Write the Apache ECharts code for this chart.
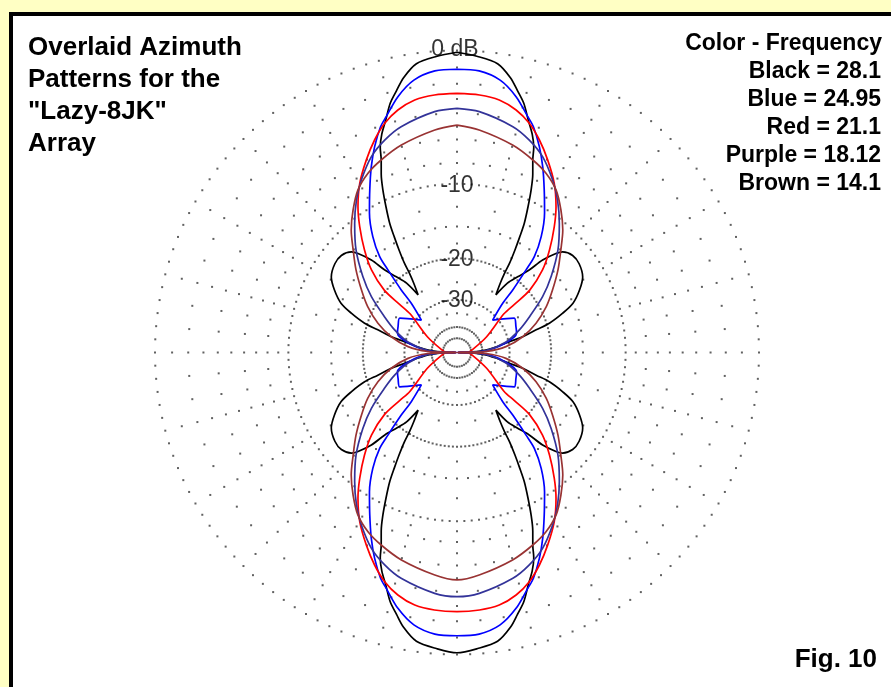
<!DOCTYPE html>
<html>
<head>
<meta charset="utf-8">
<script src="https://cdn.jsdelivr.net/npm/echarts@6/dist/echarts.min.js"></script>
<style>
  html, body { margin: 0; padding: 0; background: #FFFFC4; }
  #chart { width: 891px; height: 687px; }
</style>
</head>
<body>
<div id="chart"></div>
<script>
// Azimuth patterns of the Lazy-8JK array, one quadrant each:
// [azimuth in degrees clockwise from the top, relative gain in dB].
// The array is symmetric fore/aft and side to side, so the other
// three quadrants are reflections of this one. Broadside (90°) is a deep null.
const black28 = [
  [0, -0.1], [4, -0.3], [8, -0.6], [11, -1.3], [13, -2.0], [15, -2.7],
  [17, -3.7], [19, -4.6], [20.5, -5.5], [21.5, -6.5], [23, -7.6],
  [24.5, -9.0], [26, -10.7], [27.5, -12.5], [28.5, -14.3], [29.5, -16.2],
  [30.5, -18.4], [31, -20.4], [32, -22.5], [34, -25.2], [36, -21.6],
  [38.7, -19.5], [41.2, -17.4], [42.8, -15.0], [45, -13.2], [46.4, -12.5],
  [50, -11.9], [54, -11.9], [59, -12.4], [63, -13.5], [67, -15.0],
  [69.6, -16.9], [72.4, -19.5], [74, -22.3], [76.5, -25.7], [78.3, -29.7],
  [82, -35], [86, -42], [89, -57], [90, -99]
];
const blue2495 = [
  [0, -1.1], [4.5, -1.15], [9, -1.56], [13, -2.4], [16.7, -3.5],
  [18.7, -4.06], [21.8, -5.3], [24.8, -6.7], [28.2, -8.45], [32.1, -10.4],
  [36, -12.8], [38.9, -15.4], [39.9, -17.7], [41.7, -22], [42.9, -25.8],
  [47.7, -31.5], [59, -25.9], [66, -26.5], [72, -27], [80, -32],
  [87, -41], [89, -57], [90, -99]
];
const red211 = [
  [0, -2.63], [5, -2.67], [9.5, -2.83], [13.7, -3.27], [17.5, -3.92],
  [21.2, -4.83], [25.2, -6.0], [29.9, -7.5], [34.2, -9.25], [37.7, -11.0],
  [42, -13.4], [46, -16.0], [49.4, -19.7], [50, -24], [50.5, -27.5],
  [62, -37.7], [82, -52], [89, -57], [90, -99]
];
const purple1812 = [
  [0, -3.65], [5.3, -3.81], [13.9, -4.48], [18.8, -5.1], [23.6, -5.93],
  [29, -7.31], [33.4, -8.63], [38.4, -10.4], [44.5, -12.7], [51.1, -15.7],
  [56.9, -18.6], [63.7, -22.6], [70, -26], [78, -31], [86, -40],
  [89, -57], [90, -99]
];
const brown141 = [
  [0, -4.87], [5.7, -5.16], [15, -5.85], [21.5, -6.49], [26.4, -7.06],
  [31.4, -7.93], [36.1, -9.23], [40.8, -10.7], [45.4, -12.5], [50.7, -14.4],
  [56.8, -16.7], [62.8, -18.9], [69.7, -21.9], [76.5, -25.7], [83.2, -31.1],
  [88, -40], [89, -57], [90, -99]
];

// Drawn in this order, so the lowest frequency ends up on top.
const traceNames = ['Black = 28.1', 'Blue = 24.95', 'Red = 21.1', 'Purple = 18.12', 'Brown = 14.1'];
const traceColors = ['#000000', '#0000FF', '#FF0000', '#333399', '#993333'];
const traceData = [black28, blue2495, red211, purple1812, brown141];

// Grid: dotted rings (level in dB, angular dot step) and dotted radials.
const ringLevels = [0, -10, -20, -30, -42.5, -52.5];
const ringSteps = [2.5, 2.5, 2.5, 5, 6, 10];
const ringLabels = [
  { db: 0, text: '0 dB', dx: -2, dy: -0.5 }, { db: -10, text: '-10', dx: 0, dy: 1.5 },
  { db: -20, text: '-20', dx: 0, dy: 1.5 }, { db: -30, text: '-30', dx: 0, dy: 1 }
];
const minorRadialLevels = [-2, -4, -6, -8, -15];       // on every 5° radial
const majorRadialLevels = [-1, -3, -5, -7, -9, -12.5, -17.5, -25, -35]; // on every 15° radial
const minorStep = 5;
const majorStep = 15;

const titleLines = ['Overlaid Azimuth', 'Patterns for the', '"Lazy-8JK"', 'Array'];
const legendHeader = 'Color - Frequency';
const legendLines = ['Black = 28.1', 'Blue = 24.95', 'Red = 21.1', 'Purple = 18.12', 'Brown = 14.1'];
const figLabel = 'Fig. 10';

// ARRL log-periodic radius: every 2 dB down shrinks the radius by 0.89.
function arrl(db) { return Math.pow(0.89, -db / 2); }

// Expand a first-quadrant pattern to the full circle by reflection.
function fullPattern(q) {
  const pts = q.slice();
  for (let i = q.length - 2; i >= 0; i--) pts.push([180 - q[i][0], q[i][1]]);
  for (let i = 1; i < q.length; i++) pts.push([180 + q[i][0], q[i][1]]);
  for (let i = q.length - 2; i >= 0; i--) pts.push([360 - q[i][0], q[i][1]]);
  return pts.map(p => [arrl(p[1]), p[0]]);
}

function gridDots() {
  const pts = [];
  ringLevels.forEach((db, i) => {
    for (let a = 0; a < 360; a += ringSteps[i]) pts.push([arrl(db), a]);
  });
  for (let a = 0; a < 360; a += minorStep) {
    minorRadialLevels.forEach(db => pts.push([arrl(db), a]));
    if (a % majorStep === 0) majorRadialLevels.forEach(db => pts.push([arrl(db), a]));
  }
  return pts;
}

const FONT = '"Liberation Sans", Arial, sans-serif';
const series = [];

series.push({
  type: 'scatter', coordinateSystem: 'polar', silent: true, z: 1,
  symbol: 'rect', symbolSize: 2, itemStyle: { color: '#3a3a3a' },
  data: gridDots()
});

traceData.forEach((q, i) => {
  series.push({
    name: traceNames[i], type: 'line', coordinateSystem: 'polar', z: 3 + i,
    showSymbol: false, smooth: 0.3,
    data: fullPattern(q),
    lineStyle: { color: traceColors[i], width: 1.7 }
  });
});

series.push({
  type: 'scatter', coordinateSystem: 'polar', silent: true, z: 10,
  symbolSize: 0,
  data: ringLabels.map(r => ({
    value: [arrl(r.db), 0], name: r.text,
    label: { offset: [r.dx, r.dy] }
  })),
  label: {
    show: true, position: 'inside', formatter: p => p.name,
    color: '#000', fontSize: 23, fontFamily: FONT, textBorderWidth: 0
  }
});

const graphics = [
  { type: 'rect', z: -100, shape: { x: 11, y: 14, width: 900, height: 700 },
    style: { fill: '#FFFFFF', stroke: '#000000', lineWidth: 4 } }
];
titleLines.forEach((t, i) => graphics.push({
  type: 'text', x: 28, y: 48 + i * 31.8, z: 20,
  style: { text: t, font: 'bold 26px ' + FONT, fill: '#000', align: 'left', verticalAlign: 'middle' }
}));
graphics.push({
  type: 'text', x: 882, y: 44, z: 20,
  style: { text: legendHeader, font: 'bold 23px ' + FONT, fill: '#000', align: 'right', verticalAlign: 'middle' }
});
legendLines.forEach((t, i) => graphics.push({
  type: 'text', x: 881, y: 72 + i * 27.8, z: 20,
  style: { text: t, font: 'bold 23px ' + FONT, fill: '#000', align: 'right', verticalAlign: 'middle' }
}));
graphics.push({
  type: 'text', x: 877, y: 660, z: 20,
  style: { text: figLabel, font: 'bold 26px ' + FONT, fill: '#000', align: 'right', verticalAlign: 'middle' }
});

const chart = echarts.init(document.getElementById('chart'), null, { renderer: 'canvas' });
chart.setOption({
  backgroundColor: '#FFFFC4',
  animation: false,
  polar: { center: [457, 352.5], radius: [0, 302] },
  angleAxis: {
    type: 'value', min: 0, max: 360, startAngle: 90, clockwise: true,
    axisLine: { show: false }, axisTick: { show: false },
    axisLabel: { show: false }, splitLine: { show: false }
  },
  radiusAxis: {
    type: 'value', min: 0, max: 1,
    axisLine: { show: false }, axisTick: { show: false },
    axisLabel: { show: false }, splitLine: { show: false }
  },
  graphic: graphics,
  series: series
});
</script>
</body>
</html>
